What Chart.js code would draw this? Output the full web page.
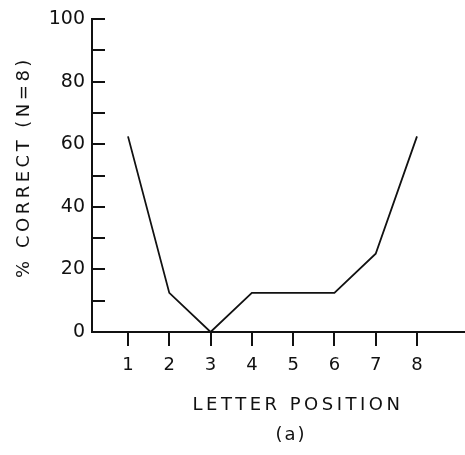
<!DOCTYPE html>
<html>
<head>
<meta charset="utf-8">
<script src="https://cdn.jsdelivr.net/npm/chart.js@4"></script>
<style>
  html, body { margin: 0; padding: 0; background: #fff; }
  #wrap { width: 465px; height: 455px; }
</style>
</head>
<body>
<div id="wrap"><canvas id="chart"></canvas></div>
<script>
// data (N = 8, so steps of 12.5%)
const positions = [1, 2, 3, 4, 5, 6, 7, 8];
const pctCorrect = [62.5, 12.5, 0, 12.5, 12.5, 12.5, 25, 62.5];
const yTicks = [0, 10, 20, 30, 40, 50, 60, 70, 80, 90, 100];
const yTitle = '% CORRECT (N=8)';
const xTitle = 'LETTER POSITION';
const panelLabel = '(a)';

const FONT = "'DejaVu Sans', sans-serif";

// axis titles drawn with extra letter spacing like the hand lettering
const titlesPlugin = {
  id: 'titles',
  afterDraw(chart) {
    const ctx = chart.ctx;
    ctx.save();
    ctx.fillStyle = '#111';
    ctx.font = '18px ' + FONT;
    ctx.letterSpacing = '3.5px';
    ctx.textAlign = 'center';
    ctx.textBaseline = 'middle';
    ctx.fillText(xTitle, 298, 405);
    ctx.letterSpacing = '2px';
    ctx.fillText(panelLabel, 291, 435);
    ctx.translate(24, 167);
    ctx.rotate(-Math.PI / 2);
    ctx.letterSpacing = '3.5px';
    ctx.fillText(yTitle, 0, 0);
    ctx.restore();
  }
};

new Chart(document.getElementById('chart'), {
  type: 'line',
  data: {
    datasets: [{
      data: positions.map((p, i) => ({ x: p, y: pctCorrect[i] })),
      borderColor: '#111',
      borderWidth: 1.8,
      pointRadius: 0,
      tension: 0,
      fill: false
    }]
  },
  plugins: [titlesPlugin],
  options: {
    responsive: true,
    maintainAspectRatio: false,
    animation: false,
    layout: { padding: { top: 19, right: 0, left: 0, bottom: 0 } },
    plugins: { legend: { display: false }, tooltip: { enabled: false } },
    scales: {
      x: {
        type: 'linear',
        min: 0.128,
        max: 9.163,
        afterBuildTicks: s => { s.ticks = positions.map(v => ({ value: v })); },
        afterFit: s => { s.height = 123; s.paddingLeft = 0; s.paddingRight = 0; },
        border: { display: true, color: '#111', width: 2 },
        grid: { drawOnChartArea: false, drawTicks: true, tickLength: 14, color: '#111', lineWidth: 2 },
        ticks: { color: '#111', padding: 9, maxRotation: 0, font: { family: FONT, size: 18 } }
      },
      y: {
        min: 0,
        max: 100,
        afterBuildTicks: s => { s.ticks = yTicks.map(v => ({ value: v })); },
        afterFit: s => { s.width = 92; s.paddingTop = 0; s.paddingBottom = 0; },
        border: { display: true, color: '#111', width: 2 },
        grid: { drawOnChartArea: false, drawTicks: true, tickLength: -13, color: '#111', lineWidth: 2 },
        ticks: {
          color: '#111',
          padding: 20,
          font: { family: FONT, size: 19 },
          callback: v => (v % 20 === 0 ? v : '')
        }
      }
    }
  }
});
</script>
</body>
</html>
